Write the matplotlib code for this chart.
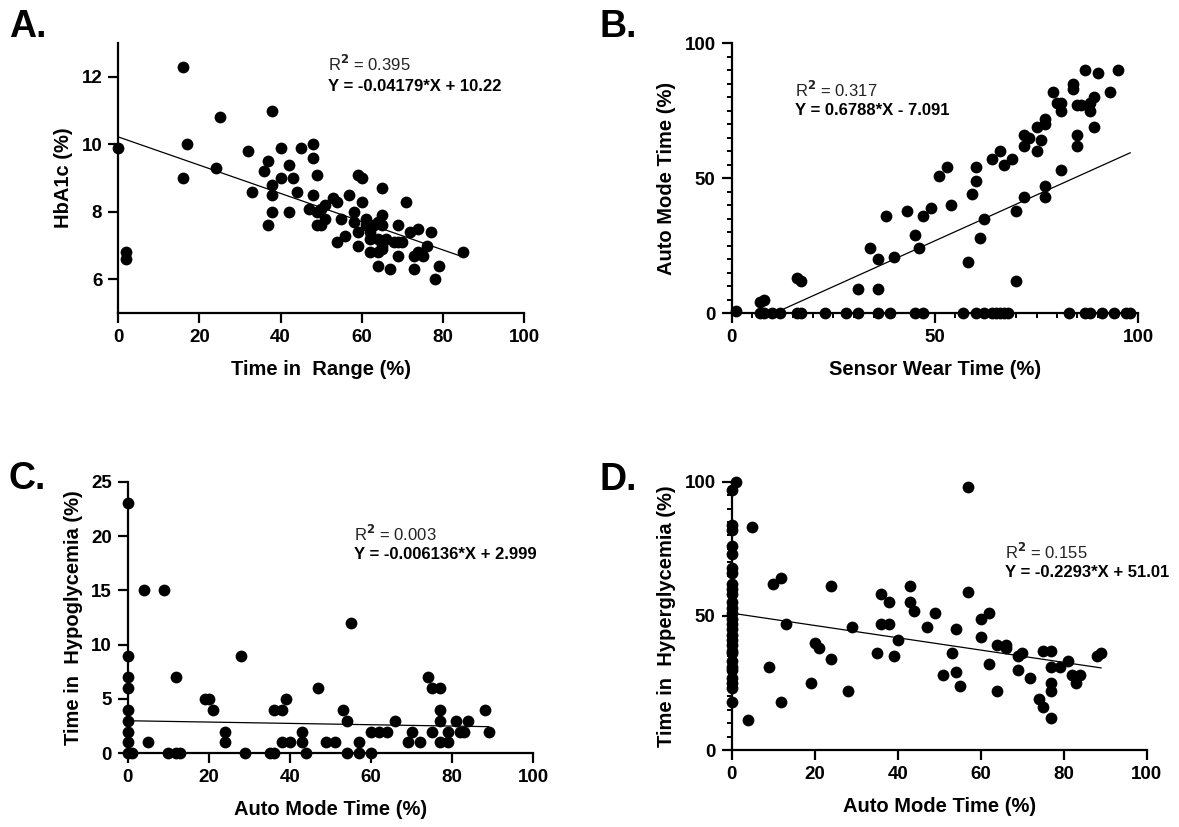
import matplotlib
matplotlib.use("Agg")
import matplotlib.pyplot as plt
from matplotlib.ticker import MultipleLocator
import numpy as np

plt.rcParams['font.family'] = ['Liberation Sans', 'DejaVu Sans']
plt.rcParams['font.weight'] = 'bold'
plt.rcParams['axes.labelweight'] = 'bold'

# A. HbA1c vs time in range
a_x = [0, 2, 2, 16, 16, 17, 24, 25, 32, 33,
       36, 37, 37, 38, 38, 38, 38, 40, 40, 42,
       42, 43, 44, 45, 48, 48, 49, 48, 47, 49,
       50, 51, 49, 50, 51, 53, 54, 55, 57, 59,
       60, 60, 58, 58, 54, 56, 59, 59, 61, 61,
       62, 62, 62, 63, 64, 65, 65, 65, 64, 65,
       64, 65, 64, 67, 66, 68, 69, 69, 69, 70,
       71, 72, 74, 73, 73, 75, 74, 76, 77, 78,
       79, 85]
a_y = [9.9, 6.8, 6.6, 12.3, 9.0, 10.0, 9.3, 10.8, 9.8, 8.6,
       9.2, 9.5, 7.6, 11.0, 8.8, 8.5, 8.0, 9.9, 9.0, 9.4,
       8.0, 9.0, 8.6, 9.9, 10.0, 9.6, 9.1, 8.5, 8.1, 8.0,
       8.1, 8.2, 7.6, 7.6, 7.8, 8.4, 8.3, 7.8, 8.5, 9.1,
       9.0, 8.3, 8.0, 7.7, 7.1, 7.3, 7.0, 7.4, 7.8, 7.6,
       7.4, 7.2, 6.8, 7.6, 7.7, 7.9, 8.7, 7.6, 7.2, 7.0,
       6.8, 6.9, 6.4, 6.3, 7.2, 7.1, 7.6, 7.1, 6.7, 7.1,
       8.3, 7.4, 7.5, 6.3, 6.7, 6.7, 6.8, 7.0, 7.4, 6.0,
       6.4, 6.8]

# B. auto mode time vs sensor wear time
b_x = [1, 7, 8, 7, 8, 10, 12, 16, 17, 16,
       17, 23, 28, 31, 31, 34, 36, 36, 36, 38,
       39, 40, 43, 45, 46, 47, 45, 47, 49, 51,
       53, 54, 57, 58, 59, 60, 60, 60, 61, 62,
       62, 64, 66, 67, 69, 64, 65, 66, 67, 68,
       70, 70, 72, 72, 72, 73, 75, 75, 76, 77,
       77, 77, 77, 79, 81, 81, 80, 81, 83, 84,
       84, 85, 86, 85, 85, 87, 88, 88, 89, 89,
       90, 87, 88, 91, 93, 94, 95, 97, 98]
b_y = [1, 4, 5, 0, 0, 0, 0, 13, 12, 0,
       0, 0, 0, 9, 0, 24, 20, 9, 0, 36,
       0, 21, 38, 29, 24, 36, 0, 0, 39, 51,
       54, 40, 0, 19, 44, 49, 54, 0, 28, 35,
       0, 57, 60, 55, 57, 0, 0, 0, 0, 0,
       38, 12, 43, 62, 66, 65, 60, 69, 64, 70,
       72, 47, 43, 82, 78, 75, 78, 53, 0, 85,
       83, 77, 77, 66, 62, 90, 75, 78, 80, 69,
       89, 0, 0, 0, 82, 0, 90, 0, 0]

# C. time in hypoglycemia vs auto mode time
c_x = [0, 0, 0, 0, 0, 0, 0, 0, 0, 1,
       4, 5, 9, 10, 12, 12, 13, 19, 20, 21,
       24, 24, 28, 29, 35, 36, 36, 38, 38, 39,
       40, 43, 43, 44, 47, 49, 51, 53, 54, 54,
       55, 57, 57, 60, 60, 62, 64, 66, 69, 70,
       72, 74, 75, 77, 75, 77, 77, 77, 79, 79,
       81, 82, 83, 84, 88, 89]
c_y = [23, 9, 7, 6, 4, 3, 2, 1, 0, 0,
       15, 1, 15, 0, 7, 0, 0, 5, 5, 4,
       2, 1, 9, 0, 0, 0, 4, 4, 1, 5,
       1, 2, 1, 0, 6, 1, 1, 4, 3, 0,
       12, 1, 0, 0, 2, 2, 2, 3, 1, 2,
       1, 7, 6, 6, 2, 4, 3, 1, 2, 1,
       3, 2, 2, 3, 4, 2]

# D. time in hyperglycemia vs auto mode time
d_x = [0, 0, 0, 0, 0, 0, 0, 0, 0, 0,
       0, 0, 0, 0, 0, 0, 0, 0, 0, 0,
       0, 0, 0, 0, 0, 0, 0, 0,
       1, 5, 4, 9, 10, 12, 12, 13, 19, 20,
       21, 24, 24, 28, 29, 35, 36, 36, 38, 38,
       39, 40, 43, 43, 44, 47, 49, 51, 53, 54,
       54, 55, 57, 57, 60, 60, 62, 62, 64, 64,
       66, 66, 69, 70, 69, 72, 74, 75, 75, 77,
       77, 77, 77, 77, 79, 81, 82, 83, 84, 88,
       89]
d_y = [97, 84, 82, 76, 73, 68, 66, 62, 60, 58,
       55, 53, 51, 49, 47, 45, 43, 41, 39, 37,
       36, 33, 31, 30, 27, 25, 23, 18,
       100, 83, 11, 31, 62, 64, 18, 47, 25, 40,
       38, 61, 34, 22, 46, 36, 58, 47, 55, 47,
       35, 41, 61, 55, 52, 46, 51, 28, 36, 45,
       29, 24, 98, 59, 49, 42, 51, 32, 22, 39,
       39, 38, 35, 36, 30, 27, 19, 16, 37, 37,
       31, 25, 22, 12, 31, 33, 28, 25, 28, 35,
       36]

# reported fits (slope, intercept, R2, equation, x range of the line)
fit_a = (-0.04179, 10.22, "0.395", "Y = -0.04179*X + 10.22", (0, 85))
fit_b = (0.6788, -7.091, "0.317", "Y = 0.6788*X - 7.091", (1, 98))
fit_c = (-0.006136, 2.999, "0.003", "Y = -0.006136*X + 2.999", (0, 89))
fit_d = (-0.2293, 51.01, "0.155", "Y = -0.2293*X + 51.01", (0, 89))


def draw_panel(ax, x, y, fit, xlabel, ylabel, ylim, ymajor, xmajor,
               yminor=None, xminor=None, text_pos=(0.5, 0.9), text_gap=0.078):
    ax.scatter(x, y, s=72, color='black', zorder=3, clip_on=False, linewidths=0)
    slope, icpt, r2, eq, xr = fit
    xl = np.array(xr, dtype=float)
    ax.plot(xl, slope * xl + icpt, color='black', lw=0.9, zorder=2)

    ax.set_xlim(0, 100)
    ax.set_ylim(*ylim)
    ax.xaxis.set_major_locator(MultipleLocator(xmajor))
    ax.yaxis.set_major_locator(MultipleLocator(ymajor))
    if xminor:
        ax.xaxis.set_minor_locator(MultipleLocator(xminor))
    if yminor:
        ax.yaxis.set_minor_locator(MultipleLocator(yminor))

    for s in ['top', 'right']:
        ax.spines[s].set_visible(False)
    for s in ['left', 'bottom']:
        ax.spines[s].set_linewidth(1.6)
    ax.tick_params(which='major', direction='out', length=7.5, width=1.6, labelsize=13.5, pad=4)
    ax.tick_params(which='minor', direction='out', length=3.8, width=1.4)
    ax.set_xlabel(xlabel, fontsize=14.5, labelpad=10)
    ax.set_ylabel(ylabel, fontsize=14.5, labelpad=6)

    tx, ty = text_pos
    ax.text(tx, ty, "R$^2$ = " + r2, transform=ax.transAxes, fontsize=12,
            fontweight='normal', color='#222222', va='center', ha='left')
    ax.text(tx, ty - text_gap, eq, transform=ax.transAxes, fontsize=12,
            fontweight='bold', va='center', ha='left')


fig = plt.figure(figsize=(11.79, 8.27), dpi=100)

ax_a = fig.add_axes([0.1003, 0.6212, 0.3441, 0.3268])
ax_b = fig.add_axes([0.6206, 0.6212, 0.3449, 0.3265])
ax_c = fig.add_axes([0.1083, 0.0891, 0.3440, 0.3284])
ax_d = fig.add_axes([0.6206, 0.0931, 0.3520, 0.3244])

draw_panel(ax_a, a_x, a_y, fit_a, "Time in  Range (%)", "HbA1c (%)",
           (5, 13), 2, 20, text_pos=(0.516, 0.922), text_gap=0.082)
draw_panel(ax_b, b_x, b_y, fit_b, "Sensor Wear Time (%)", "Auto Mode Time (%)",
           (0, 100), 50, 50, yminor=5, xminor=5, text_pos=(0.156, 0.827), text_gap=0.077)
draw_panel(ax_c, c_x, c_y, fit_c, "Auto Mode Time (%)", "Time in  Hypoglycemia (%)",
           (0, 25), 5, 20, text_pos=(0.559, 0.806), text_gap=0.074)
draw_panel(ax_d, d_x, d_y, fit_d, "Auto Mode Time (%)", "Time in  Hyperglycemia (%)",
           (0, 100), 50, 20, yminor=5, text_pos=(0.659, 0.737), text_gap=0.075)

# panel letters
for lx, ly, letter in [(9, 37, "A."), (600, 37, "B."), (9, 489, "C."), (600, 490, "D.")]:
    fig.text(lx / 1179, 1 - ly / 827, letter, fontsize=27, fontweight='bold',
             ha='left', va='baseline')

fig.savefig("out.png", dpi=100)
